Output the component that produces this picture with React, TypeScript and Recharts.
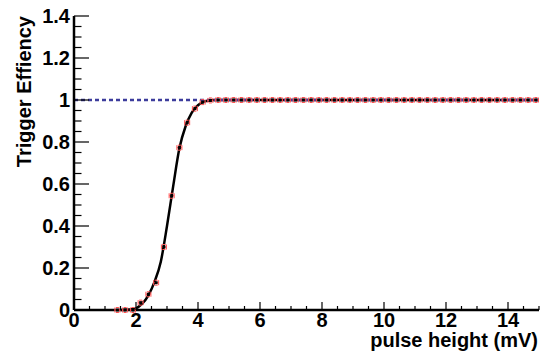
import React from 'react';
import {
  ComposedChart,
  Line,
  Scatter,
  XAxis,
  YAxis,
  ReferenceLine,
} from 'recharts';

// measured points (pulse height in mV, efficiency)
const pulseHeight = [
  1.4, 1.65, 1.9, 2.15, 2.4, 2.65, 2.9, 3.15, 3.4, 3.65, 3.9, 4.15, 4.4, 4.65,
  4.9, 5.15, 5.4, 5.65, 5.9, 6.15, 6.4, 6.65, 6.9, 7.15, 7.4, 7.65, 7.9, 8.15,
  8.4, 8.65, 8.9, 9.15, 9.4, 9.65, 9.9, 10.15, 10.4, 10.65, 10.9, 11.15, 11.4,
  11.65, 11.9, 12.15, 12.4, 12.65, 12.9, 13.15, 13.4, 13.65, 13.9, 14.15, 14.4,
  14.65, 14.9,
];
const efficiency = [
  0, 0, 0, 0.035, 0.075, 0.13, 0.3, 0.544, 0.773, 0.892, 0.959, 0.99, 0.998, 1,
  1, 1, 1, 1, 1, 1, 1, 1, 1, 1, 1, 1, 1, 1,
  1, 1, 1, 1, 1, 1, 1, 1, 1, 1, 1, 1, 1,
  1, 1, 1, 1, 1, 1, 1, 1, 1, 1, 1, 1,
  1, 1,
];

// fitted curve
const fitX = [1.5, 1.8, 2.0, 2.2, 2.4, 2.6, 2.8, 3.0, 3.2, 3.4, 3.6, 3.8, 4.0, 4.2, 4.4, 4.6, 15];
const fitY = [0, 0.002, 0.008, 0.03, 0.07, 0.135, 0.23, 0.4, 0.59, 0.77, 0.875, 0.94, 0.975, 0.992, 0.999, 1, 1];

const xTicks = [
  0, 0.5, 1, 1.5, 2, 2.5, 3, 3.5, 4, 4.5, 5, 5.5, 6, 6.5, 7, 7.5, 8, 8.5, 9, 9.5,
  10, 10.5, 11, 11.5, 12, 12.5, 13, 13.5, 14, 14.5, 15,
];
const yTicks = [
  0, 0.05, 0.1, 0.15, 0.2, 0.25, 0.3, 0.35, 0.4, 0.45, 0.5, 0.55, 0.6, 0.65, 0.7,
  0.75, 0.8, 0.85, 0.9, 0.95, 1, 1.05, 1.1, 1.15, 1.2, 1.25, 1.3, 1.35, 1.4,
];

const points = pulseHeight.map((x, i) => ({ x, y: efficiency[i] }));
const fit = fitX.map((x, i) => ({ x, y: fitY[i] }));

const FONT = '"Liberation Sans", Arial, Helvetica, sans-serif';

const isMajorX = (v: number) => Math.round(v * 10) % 20 === 0;
const isMajorY = (v: number) => Math.round(v * 100) % 20 === 0;

const fmtY = (v: number) => {
  const r = Math.round(v * 10) / 10;
  return r === 0 ? '0' : r === 1 ? '1' : r.toString();
};

const BottomTick = (props: any) => {
  const { x, y, payload } = props;
  const major = isMajorX(payload.value);
  return (
    <g>
      <line x1={x} x2={x} y1={y} y2={y - (major ? 8 : 4)} stroke="#000" strokeWidth={1.2} />
      {major && (
        <text x={x} y={y + 17} textAnchor="middle" fontFamily={FONT} fontWeight="bold" fontSize={20} fill="#000">
          {payload.value}
        </text>
      )}
    </g>
  );
};

const TopTick = (props: any) => {
  const { x, y, payload } = props;
  const major = isMajorX(payload.value);
  return <line x1={x} x2={x} y1={y} y2={y + (major ? 8 : 4)} stroke="#000" strokeWidth={1.2} />;
};

const LeftTick = (props: any) => {
  const { x, y, payload } = props;
  const major = isMajorY(payload.value);
  return (
    <g>
      <line x1={x} x2={x + (major ? 15 : 7.5)} y1={y} y2={y} stroke="#000" strokeWidth={1.2} />
      {major && (
        <text x={x - 4} y={y + 7} textAnchor="end" fontFamily={FONT} fontWeight="bold" fontSize={20} fill="#000">
          {fmtY(payload.value)}
        </text>
      )}
    </g>
  );
};

const RightTick = (props: any) => {
  const { x, y, payload } = props;
  const major = isMajorY(payload.value);
  return <line x1={x} x2={x - (major ? 13 : 6)} y1={y} y2={y} stroke="#000" strokeWidth={1.2} />;
};

// black marker with small red error bars
const Marker = (props: any) => {
  const { cx, cy } = props;
  if (cx == null || cy == null) return null;
  return (
    <g>
      <path
        d={`M${cx - 2.5},${cy - 2.5}V${cy + 2.5}M${cx + 2.5},${cy - 2.5}V${cy + 2.5}M${cx - 2.5},${cy}H${cx + 2.5}M${cx - 1.5},${cy - 2.5}H${cx + 1.5}M${cx - 1.5},${cy + 2.5}H${cx + 1.5}`}
        fill="none"
        stroke="#ff5050"
        strokeWidth={1}
      />
      <rect x={cx - 1.5} y={cy - 1.5} width={3} height={3} fill="#000" />
    </g>
  );
};

export default function App() {
  return (
    <div style={{ position: 'absolute', left: 0, top: 0, width: 541, height: 351, overflow: 'hidden', background: '#fff' }}>
      <ComposedChart width={541} height={351} margin={{ top: 16, right: 2, bottom: 0, left: 0 }}>
        <XAxis
          xAxisId="b"
          type="number"
          dataKey="x"
          domain={[0, 15]}
          ticks={xTicks}
          interval={0}
          tickSize={0}
          tickMargin={0}
          tickLine={false}
          height={41}
          axisLine={{ stroke: '#000', strokeWidth: 2.5 }}
          tick={<BottomTick />}
        />
        <XAxis
          xAxisId="t"
          orientation="top"
          type="number"
          dataKey="x"
          domain={[0, 15]}
          ticks={xTicks}
          interval={0}
          tickSize={0}
          tickMargin={0}
          tickLine={false}
          height={0}
          axisLine={{ stroke: '#000', strokeWidth: 2.5 }}
          tick={<TopTick />}
        />
        <YAxis
          yAxisId="l"
          type="number"
          domain={[0, 1.4]}
          ticks={yTicks}
          interval={0}
          tickSize={0}
          tickMargin={0}
          tickLine={false}
          width={74}
          axisLine={{ stroke: '#000', strokeWidth: 2.5 }}
          tick={<LeftTick />}
        />
        <YAxis
          yAxisId="r"
          orientation="right"
          type="number"
          domain={[0, 1.4]}
          ticks={yTicks}
          interval={0}
          tickSize={0}
          tickMargin={0}
          tickLine={false}
          width={0}
          axisLine={{ stroke: '#000', strokeWidth: 2.5 }}
          tick={<RightTick />}
        />
        <Line
          xAxisId="b"
          yAxisId="l"
          data={fit}
          dataKey="y"
          type="monotone"
          stroke="#000"
          strokeWidth={2.5}
          dot={false}
          activeDot={false}
          isAnimationActive={false}
        />
        <Scatter
          xAxisId="b"
          yAxisId="l"
          data={points}
          dataKey="y"
          shape={<Marker />}
          isAnimationActive={false}
        />
        <ReferenceLine
          xAxisId="b"
          yAxisId="l"
          y={1}
          stroke="#3c3c9c"
          strokeWidth={2.5}
          strokeDasharray="4 3"
        />
      </ComposedChart>
      <div
        style={{
          position: 'absolute',
          right: 3,
          top: 329,
          fontFamily: FONT,
          fontWeight: 'bold',
          fontSize: 20,
          lineHeight: '22px',
          whiteSpace: 'nowrap',
        }}
      >
        pulse height (mV)
      </div>
      <svg style={{ position: 'absolute', left: 0, top: 0 }} width={60} height={351}>
        <text
          transform="translate(31,16) rotate(-90)"
          textAnchor="end"
          fontFamily={FONT}
          fontWeight="bold"
          fontSize={20}
          fill="#000"
        >
          Trigger Effiency
        </text>
      </svg>
    </div>
  );
}
